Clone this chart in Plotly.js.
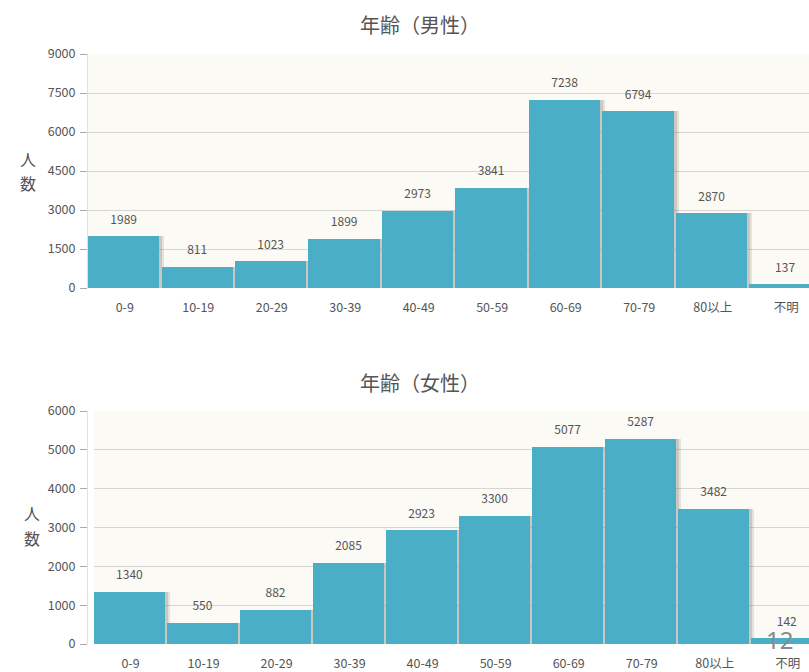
<!DOCTYPE html>
<html>
<head>
<meta charset="utf-8">
<script src="https://cdn.plot.ly/plotly-3.0.1.min.js"></script>
<style>html,body{margin:0;padding:0;background:#fff;}#chart{width:809px;height:672px;}</style>
</head>
<body>
<div id="chart"></div>
<script>
const categories = ['0-9','10-19','20-29','30-39','40-49','50-59','60-69','70-79','80以上','不明'];
const maleValues = [1989, 811, 1023, 1899, 2973, 3841, 7238, 6794, 2870, 137];
const femaleValues = [1340, 550, 882, 2085, 2923, 3300, 5077, 5287, 3482, 142];
const maleTicks = [0, 1500, 3000, 4500, 6000, 7500, 9000];
const femaleTicks = [0, 1000, 2000, 3000, 4000, 5000, 6000];
const titleMale = '年齢（男性）';
const titleFemale = '年齢（女性）';
const yTitleChars = ['人', '数'];
const pageNumber = '12';

const barColor = '#4aafc6';
const textColor = '#555';
const fontFam = '"Noto Sans CJK JP", "Noto Sans", sans-serif';
const idx = categories.map((c, i) => i);

function shadow(vals, xa, ya, off, col) {
  return {type: 'bar', x: idx, y: vals, xaxis: xa, yaxis: ya, width: 0.97, offset: off,
    marker: {color: col, line: {width: 0}}, hoverinfo: 'skip', showlegend: false};
}
function bars(vals, xa, ya) {
  return {type: 'bar', x: idx, y: vals, xaxis: xa, yaxis: ya, width: 0.97, offset: -0.5,
    marker: {color: barColor, line: {width: 0}}, showlegend: false};
}
function labels(vals, xa, ya) {
  return {type: 'scatter', mode: 'markers+text', x: idx.map(i => i - 0.015), y: vals, xaxis: xa, yaxis: ya,
    marker: {size: 14, color: 'rgba(0,0,0,0)'}, text: vals.map(String), textposition: 'top center',
    cliponaxis: false, textfont: {family: fontFam, size: 12, color: textColor}, showlegend: false};
}

const data = [
  shadow(maleValues, 'x', 'y', -0.43, 'rgba(120,105,95,0.16)'),
  shadow(maleValues, 'x', 'y', -0.46, 'rgba(120,105,95,0.22)'),
  bars(maleValues, 'x', 'y'),
  labels(maleValues, 'x', 'y'),
  shadow(femaleValues, 'x2', 'y2', -0.43, 'rgba(120,105,95,0.16)'),
  shadow(femaleValues, 'x2', 'y2', -0.46, 'rgba(120,105,95,0.22)'),
  bars(femaleValues, 'x2', 'y2'),
  labels(femaleValues, 'x2', 'y2')
];

function yax(ticks, dom) {
  return {domain: dom, range: [0, ticks[ticks.length - 1]], tickvals: ticks, ticktext: ticks.map(String),
    ticks: 'outside', ticklen: 7, tickcolor: '#aaa', showgrid: true, gridcolor: '#d6d6d2', gridwidth: 1,
    showline: true, linecolor: '#e2e2dc', zeroline: false, ticklabelstandoff: 2,
    tickfont: {family: fontFam, size: 12.5, color: textColor}, fixedrange: true};
}
function xax(dom, rmax, anchor) {
  return {domain: dom, range: [-0.5, rmax], anchor: anchor, tickvals: idx, ticktext: categories,
    ticks: '', showgrid: false, zeroline: false, showline: false, ticklabelstandoff: 10,
    tickfont: {family: fontFam, size: 12.5, color: textColor}, fixedrange: true};
}

function ann(text, x, y, size, color, fam) {
  return {text: text, xref: 'paper', yref: 'paper', x: x / 809, y: 1 - y / 672, showarrow: false,
    font: {family: fam || fontFam, size: size, color: color}, xanchor: 'center', yanchor: 'middle'};
}

const layout = {
  width: 809, height: 672,
  margin: {l: 0, r: 0, t: 0, b: 0},
  paper_bgcolor: '#ffffff', plot_bgcolor: '#fbfaf4',
  barmode: 'overlay', bargap: 0,
  showlegend: false,
  xaxis: xax([88/809, 1], 9.31, 'y'),
  yaxis: yax(maleTicks, [1 - 288/672, 1 - 54/672]),
  xaxis2: xax([94/809, 1], 9.29, 'y2'),
  yaxis2: yax(femaleTicks, [1 - 644/672, 1 - 411/672]),
  annotations: [
    ann(titleMale, 420, 25, 20, '#555'),
    ann(titleFemale, 420, 382, 20, '#555'),
    ann(yTitleChars[0], 28, 159, 16, '#555'),
    ann(yTitleChars[1], 28, 183, 16, '#555'),
    ann(yTitleChars[0], 32, 513, 16, '#555'),
    ann(yTitleChars[1], 32, 538, 16, '#555'),
    ann(pageNumber, 779, 639, 24, '#8a8a8a', '"Noto Sans", sans-serif')
  ]
};

Plotly.newPlot('chart', data, layout, {displayModeBar: false, staticPlot: true});
</script>
</body>
</html>
